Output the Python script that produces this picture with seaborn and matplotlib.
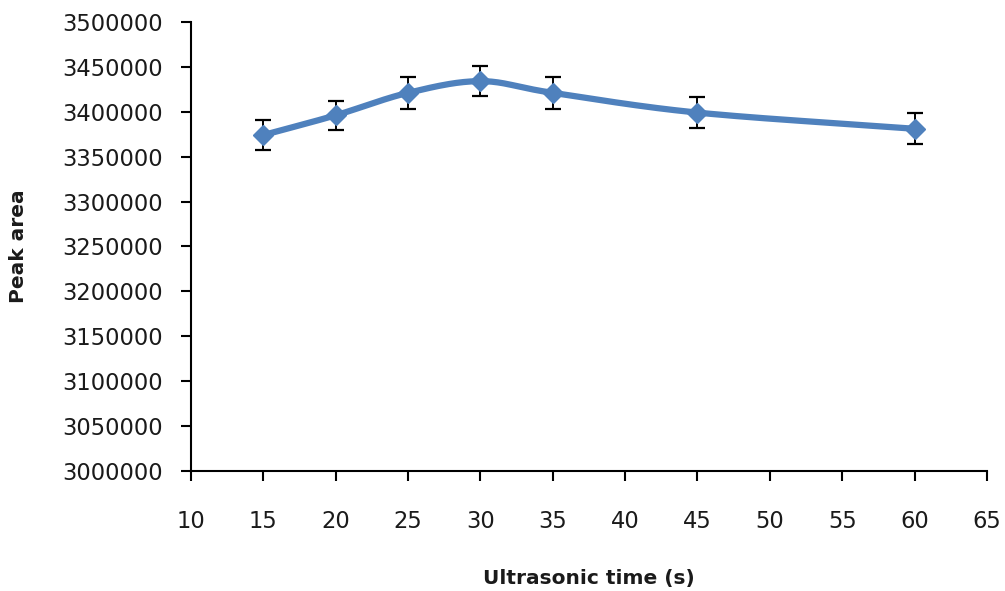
import numpy as np
import matplotlib
matplotlib.use("Agg")
import matplotlib.pyplot as plt
import seaborn as sns

# Data
times = [15, 20, 25, 30, 35, 45, 60]
peak_area = [3374000, 3396000, 3421000, 3434000, 3421000, 3399000, 3381000]
errors = [17000, 16000, 17500, 17000, 17500, 17000, 17500]
x_ticks = list(range(10, 70, 5))
y_ticks = list(range(3000000, 3550000, 50000))

sns.set_theme(style="white")
plt.rcParams['font.family'] = ['DejaVu Sans']

fig = plt.figure(figsize=(10.05, 5.91), dpi=100)
ax = fig.add_axes([0.190, 0.203, 0.792, 0.760])

# Smoothed curve (Catmull-Rom, like Excel's smoothed line) through the data points
def catmull_rom(xs, ys, n=30):
    px = np.array(xs, dtype=float)
    py = np.array(ys, dtype=float)
    px = np.concatenate([[2 * px[0] - px[1]], px, [2 * px[-1] - px[-2]]])
    py = np.concatenate([[2 * py[0] - py[1]], py, [2 * py[-1] - py[-2]]])
    outx, outy = [], []
    for i in range(1, len(px) - 2):
        t = np.linspace(0, 1, n, endpoint=False)
        b0x, b3x = px[i], px[i + 1]
        b1x = px[i] + (px[i + 1] - px[i - 1]) / 6
        b2x = px[i + 1] - (px[i + 2] - px[i]) / 6
        b0y, b3y = py[i], py[i + 1]
        b1y = py[i] + (py[i + 1] - py[i - 1]) / 6
        b2y = py[i + 1] - (py[i + 2] - py[i]) / 6
        outx.append((1 - t) ** 3 * b0x + 3 * (1 - t) ** 2 * t * b1x + 3 * (1 - t) * t ** 2 * b2x + t ** 3 * b3x)
        outy.append((1 - t) ** 3 * b0y + 3 * (1 - t) ** 2 * t * b1y + 3 * (1 - t) * t ** 2 * b2y + t ** 3 * b3y)
    outx.append([px[-2]])
    outy.append([py[-2]])
    return np.concatenate(outx), np.concatenate(outy)

sx, sy = catmull_rom(times, peak_area)
color = "#4F81BD"
sns.lineplot(x=sx, y=sy, ax=ax, color=color, linewidth=4.5, sort=False, estimator=None)
ax.errorbar(times, peak_area, yerr=errors, fmt="none", ecolor="black",
            elinewidth=1.4, capsize=5.5, capthick=1.6, zorder=4)
ax.plot(times, peak_area, linestyle="none", marker="D", markersize=10.5,
        color=color, markeredgecolor=color, zorder=5)

ax.set_xlim(10, 65)
ax.set_ylim(3000000, 3500000)
ax.set_xticks(x_ticks)
ax.set_yticks(y_ticks)
ax.set_xticklabels([str(v) for v in x_ticks])
ax.set_yticklabels([str(v) for v in y_ticks])

for side in ["top", "right"]:
    ax.spines[side].set_visible(False)
for side in ["left", "bottom"]:
    ax.spines[side].set_color("black")
    ax.spines[side].set_linewidth(1.5)

ax.tick_params(axis="both", which="major", direction="out", length=7, width=1.5,
               color="black", labelsize=16.3, labelcolor="#1a1a1a", left=True, bottom=True)
ax.tick_params(axis="y", pad=13)
ax.tick_params(axis="x", pad=21)

ax.set_xlabel("Ultrasonic time (s)", fontsize=14.5, fontweight="bold", color="#1a1a1a")
ax.set_ylabel("Peak area", fontsize=14.5, fontweight="bold", color="#1a1a1a")
ax.xaxis.set_label_coords(0.5, -0.218)
ax.yaxis.set_label_coords(-0.205, 0.5)

fig.savefig("out.png", dpi=100, facecolor="white")
